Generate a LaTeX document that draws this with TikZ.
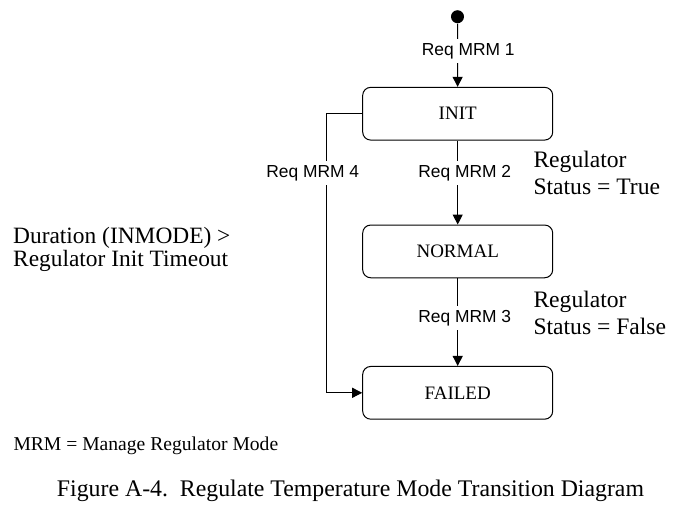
\documentclass[tikz,border=0pt]{standalone}
\usepackage{fontspec}
\setmainfont{Liberation Serif}
\newfontfamily\reqfont{Liberation Sans}
\usetikzlibrary{arrows.meta,positioning}

\begin{document}
\begin{tikzpicture}[x=1pt,y=-1pt,>={Triangle[length=10pt,width=10pt]},line width=1pt,
    mode/.style={draw,rounded corners=8pt,minimum width=190pt,minimum height=52.7pt,
                 font=\fontsize{19}{22}\selectfont},
    req/.style={fill=white,inner sep=4pt,font=\reqfont\fontsize{17.4}{20}\selectfont},
    guard/.style={align=left,anchor=west,inner sep=0pt,font=\fontsize{23.6}{26.3}\selectfont}]

    \useasboundingbox (0,0) rectangle (673,523);

    \node[circle,fill,inner sep=0pt,minimum size=13pt] (start) at (457.5,16.7) {};

    \node[mode] (init) at (457.7,113.7) {INIT};
    \node[mode] (normal) [below=84pt of init] {NORMAL};
    \node[mode] (failed) [below=87.7pt of normal] {FAILED};

    \draw[->] (start) -- node[req,pos=0.43,xshift=10.7pt] {Req MRM 1} (init);
    \draw[->] (init) -- node[req,pos=0.39,xshift=7pt] {Req MRM 2} (normal);
    \draw[->] (normal) -- node[req,pos=0.456,xshift=7pt] {Req MRM 3} (failed);
    \draw[->] (init.west) -- ++(-35.5,0) |- node[req,pos=0.106,xshift=-14pt] {Req MRM 4} (failed.west);

    \node[guard] (g2) at (533,173) {Regulator\\Status = True};
    \node[guard] (g3) at (533,313) {Regulator\\Status = False};
    \node[guard,font=\fontsize{23.4}{23.6}\selectfont] (g4) at (12.7,249.4) {Duration (INMODE) >\\Regulator Init Timeout};

    \node[anchor=base west,inner sep=0pt,font=\fontsize{19.6}{22}\selectfont] (note) at (13,450.7) {MRM = Manage Regulator Mode};
    \node[anchor=base,inner sep=0pt,font=\fontsize{23.8}{26}\selectfont] (caption) at (350.5,496) {Figure A-4.\ \ Regulate Temperature Mode Transition Diagram};

\end{tikzpicture}
\end{document}
